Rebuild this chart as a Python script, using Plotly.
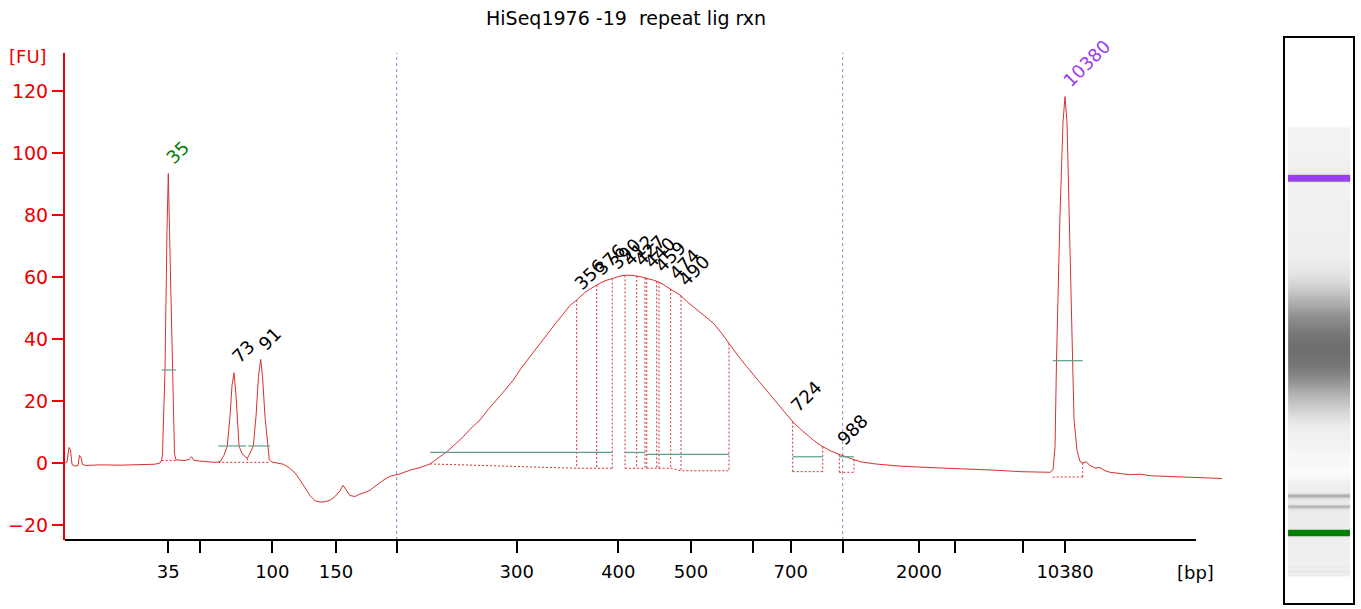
import numpy as np
import plotly.graph_objects as go

# ---------------- data (migration time in s, fluorescence in FU) ----------------
mig_time = [
    20.0, 20.2, 20.4, 20.55, 20.7, 21.0, 21.3, 21.45, 21.6, 21.75, 22.1, 23.5, 25.5, 27.5,
    29.0, 29.5, 29.67, 29.75, 30.0, 30.2, 30.33, 30.45, 30.73, 30.95, 31.1, 32.0, 32.4,
    32.67, 32.9, 33.5, 34.3, 35.0, 35.5, 35.9, 36.23, 36.5, 36.7, 36.9, 37.1, 37.3, 37.4,
    37.7, 38.0, 38.23, 38.4, 38.6, 38.83, 39.1, 39.35, 39.57, 39.75, 40.0, 40.27, 40.43,
    40.7, 41.3, 41.83, 42.4, 43.0, 43.5, 44.0, 44.5, 45.0, 45.5, 46.0, 46.5, 47.0, 47.5,
    47.8, 48.1, 48.5, 49.0, 49.5, 50.0, 50.5, 51.0, 51.5, 52.0, 52.5, 53.5, 54.5, 55.5,
    56.5, 57.3, 58.17, 59.0, 59.83, 60.6, 61.5, 62.3, 63.17, 64.0, 64.83, 65.6, 66.5,
    67.3, 68.17, 69.0, 69.83, 70.5, 71.17, 72.1, 73.17, 74.0, 74.83, 75.5, 76.17, 76.8,
    77.5, 78.1, 78.83, 79.5, 80.17, 80.8, 81.5, 82.3, 83.17, 84.0, 84.83, 85.7, 86.5,
    87.3, 88.17, 89.0, 89.83, 90.7, 91.5, 92.2, 92.83, 93.8, 94.83, 95.7, 96.5, 97.3,
    98.17, 98.8, 99.5, 101.0, 103.5, 106.0, 108.5, 111.0, 113.5, 115.5, 117.5, 118.5,
    118.8, 119.0, 119.15, 119.5, 119.8, 120.0, 120.2, 120.4, 120.7, 120.9, 121.2, 121.5,
    121.8, 122.1, 122.5, 123.0, 123.5, 124.0, 124.5, 125.5, 126.5, 127.5, 128.5, 130.0,
    131.5, 133.0, 134.5, 135.7,
]
fluorescence = [
    0.0, 0.3, 5.0, 4.2, -0.5, -1.0, -0.8, 2.5, 1.8, -0.5, -0.8, -0.6, -0.7, -0.5,
    -0.4, 0.0, 1.0, 3.0, 30.0, 75.0, 93.4, 75.0, 30.0, 3.0, 1.0, 0.8, 1.2,
    2.0, 0.8, 0.6, 0.4, 0.2, 0.4, 2.5, 5.5, 15.0, 25.0, 29.1, 22.0, 10.0, 5.5,
    3.0, 2.0, 1.5, 2.5, 4.0, 5.5, 15.0, 28.0, 33.4, 28.0, 15.0, 5.5, 1.0,
    0.3, 0.0, -0.4, -1.5, -3.2, -5.5, -8.0, -10.5, -12.2, -12.6, -12.5, -12.0, -10.8, -9.0,
    -7.2, -8.5, -10.5, -10.8, -10.0, -9.5, -8.8, -7.5, -6.2, -5.2, -4.3, -3.5, -2.3, -1.5,
    -0.3, 1.5, 3.6, 6.0, 8.5, 11.2, 13.9, 17.2, 20.3, 23.5, 26.8, 30.5, 34.3,
    37.8, 41.3, 44.8, 48.3, 50.8, 52.6, 55.3, 57.4, 58.8, 59.6, 60.3, 60.6, 60.5,
    60.1, 59.7, 59.0, 58.2, 56.9, 55.6, 54.2, 51.8, 49.4, 47.3, 45.1, 41.7, 38.1,
    34.6, 31.1, 27.8, 24.6, 21.3, 18.2, 15.5, 13.1, 10.2, 7.4, 5.4, 4.0, 2.9,
    2.0, 1.2, 0.4, -0.3, -1.0, -1.4, -1.7, -2.0, -2.4, -2.8, -3.0, -3.0,
    -2.2, 5.0, 33.0, 80.0, 110.0, 118.2, 110.0, 80.0, 33.0, 14.0, 4.0, 0.5,
    0.0, 0.4, -0.8, -1.6, -1.5, -2.5, -3.0, -3.3, -3.8, -3.6, -4.1, -4.3,
    -4.5, -4.6, -4.9, -5.0,
]

# ladder tick positions on the time axis and their bp labels ("" = unlabeled tick)
tick_times = [30.33, 33.5, 40.73, 47.1, 53.17, 65.17, 75.33, 82.6, 88.77, 92.57,
              97.77, 105.4, 109.0, 115.83, 120.0]
tick_labels = ["35", "", "100", "150", "", "300", "400", "500", "", "700",
               "", "2000", "", "", "10380"]
region_bounds = [53.17, 97.77]   # dotted region-of-interest lines

# called peaks
peak_times = [30.33, 36.9, 39.57, 71.17, 73.17, 74.73, 76.0, 77.17, 78.17, 79.2,
              80.57, 81.6, 92.77, 97.43, 120.0]
peak_labels = ["35", "73", "91", "356", "376", "390", "412", "427", "440", "459",
               "474", "490", "724", "988", "10380"]
peak_colors = ["#008000"] + ["black"] * 13 + ["#9b3cf5"]

# peak-window baselines (dotted) and half-height bars (green)
baseline_polylines = [
    [(29.67, 0.8), (31.1, 0.8)],
    [(35.33, 0.2), (40.5, 0.2)],
    [(56.5, -0.3), (71.17, -1.7), (74.73, -1.7)],
    [(76.0, -1.7), (78.0, -1.7)],
    [(78.17, -1.7), (80.57, -1.7), (81.6, -2.5), (86.4, -2.5)],
    [(92.77, -2.8), (95.77, -2.8)],
    [(97.43, -3.0), (98.9, -3.0)],
    [(118.77, -4.5), (121.77, -4.5)],
]
window_edges = [(38.23, 0.2), (71.17, -1.7), (73.17, -1.7), (74.73, -1.7), (76.0, -1.7),
                (77.17, -1.7), (78.0, -1.7), (78.17, -1.7), (79.17, -1.7), (79.4, -1.7),
                (80.57, -1.7), (81.6, -2.5), (86.4, -2.5), (92.77, -2.8), (95.77, -2.8),
                (97.43, -3.0), (98.9, -3.0), (121.77, -4.5)]
half_height_bars = [(29.67, 31.1, 30.0), (35.33, 38.1, 5.5), (38.33, 40.5, 5.5),
                    (56.5, 74.73, 3.4), (76.0, 78.0, 3.4), (78.17, 86.4, 2.8),
                    (92.77, 95.77, 2.0), (97.43, 98.9, 2.0), (118.77, 121.77, 33.0)]

lower_marker_time = 30.33
upper_marker_time = 120.0

# ---------------- styling ----------------
RED_AX = "#ee0000"
TRACE = "#d83030"
GREEN_BAR = "#5b9e8e"
FONT = "DejaVu Sans"

W, H = 1361, 609
ML, MR, MT, MB = 65, 5, 37, 5
PW, PH = W - ML - MR, H - MT - MB

def px_x(p):
    return (p - ML) / PW

def px_y(p):
    return (H - MB - p) / PH

fig = go.Figure()

# main trace
fig.add_trace(go.Scatter(x=mig_time, y=fluorescence, mode="lines",
                         line=dict(color=TRACE, width=1), hoverinfo="skip",
                         xaxis="x", yaxis="y", showlegend=False))

# dotted peak-window lines
tx, ty = [], []
for poly in baseline_polylines:
    for a, b in poly:
        tx.append(a); ty.append(b)
    tx.append(None); ty.append(None)
for t, yb in window_edges:
    tx += [t, t, None]
    ty += [float(np.interp(t, mig_time, fluorescence)), yb, None]
fig.add_trace(go.Scatter(x=tx, y=ty, mode="lines",
                         line=dict(color=TRACE, width=1, dash="2px,2px"),
                         hoverinfo="skip", showlegend=False))

# green half-height bars
gx, gy = [], []
for a, b, v in half_height_bars:
    gx += [a, b, None]; gy += [v, v, None]
fig.add_trace(go.Scatter(x=gx, y=gy, mode="lines",
                         line=dict(color=GREEN_BAR, width=1.2),
                         hoverinfo="skip", showlegend=False))

# ---------------- gel lane ----------------
gel_t_lo, gel_t_hi = 19.44, 132.7
grid = np.arange(gel_t_lo, gel_t_hi, 0.25)
fu_grid = np.interp(grid, mig_time, fluorescence)
gray = np.where(fu_grid > 0, 238 - 2.1 * fu_grid, 238 - 1.0 * fu_grid)
gray = np.clip(gray, 0, 250)
fig.add_trace(go.Heatmap(z=[[g] for g in gray], y=grid, x0=36.5, dx=64.4,
                         colorscale=[[0, "rgb(0,0,0)"], [1, "rgb(255,255,255)"]],
                         zmin=0, zmax=255, showscale=False, hoverinfo="skip",
                         xaxis="x2", yaxis="y2"))

shapes = []
for tm, col in [(upper_marker_time, "#9b3cf5"), (lower_marker_time, "#008000")]:
    shapes.append(dict(type="rect", xref="x2", yref="y2", x0=4.3, x1=68.7,
                       y0=tm - 0.8, y1=tm + 0.8, fillcolor=col, line=dict(width=0)))
shapes.append(dict(type="rect", xref="x2 domain", yref="y2 domain", x0=0, x1=1, y0=0, y1=1,
                   line=dict(color="black", width=2), fillcolor="rgba(0,0,0,0)"))

# region-of-interest dotted verticals
for t in region_bounds:
    shapes.append(dict(type="line", xref="x", yref="y domain", x0=t, x1=t, y0=0, y1=1,
                       line=dict(color="#8c8cd0", width=1, dash="dot"), layer="below"))
# x axis line (stops short of plot end)
shapes.append(dict(type="line", xref="x", yref="y domain", x0=20.0, x1=133.1, y0=0, y1=0,
                   line=dict(color="black", width=2)))

# ---------------- annotations ----------------
ann = []
for t, lab, col in zip(peak_times, peak_labels, peak_colors):
    yv = float(np.interp(t, mig_time, fluorescence))
    L = len(lab) * 11.45
    ann.append(dict(x=t, y=yv, xref="x", yref="y", text=lab, showarrow=False,
                    textangle=-45, xanchor="center", yanchor="middle",
                    xshift=0.354 * L + 1, yshift=0.354 * L + 13,
                    font=dict(family=FONT, size=18, color=col)))
ann.append(dict(x=px_x(28), y=px_y(56), xref="paper", yref="paper", text="[FU]",
                showarrow=False, xanchor="center", yanchor="middle",
                font=dict(family=FONT, size=18, color=RED_AX)))
ann.append(dict(x=px_x(1195), y=px_y(572), xref="paper", yref="paper", text="[bp]",
                showarrow=False, xanchor="center", yanchor="middle",
                font=dict(family=FONT, size=18, color="black")))
ann.append(dict(x=px_x(626), y=px_y(18), xref="paper", yref="paper",
                text="HiSeq1976 -19\u00a0 repeat lig rxn",
                showarrow=False, xanchor="center", yanchor="middle",
                font=dict(family=FONT, size=19, color="black")))

fig.update_layout(
    width=W, height=H,
    margin=dict(l=ML, r=MR, t=MT, b=MB),
    plot_bgcolor="white", paper_bgcolor="white",
    showlegend=False,
    xaxis=dict(domain=[0, px_x(1225)], range=[20.0, 136.0], showgrid=False, zeroline=False,
               showline=False, tickmode="array", tickvals=tick_times, ticktext=tick_labels,
               ticks="outside", ticklen=12, tickwidth=2, tickcolor="black",
               ticklabelstandoff=3,
               tickfont=dict(family=FONT, size=18, color="black"), anchor="y"),
    yaxis=dict(domain=[px_y(540), px_y(52.7)], range=[-24.84, 132.35], showgrid=False,
               zeroline=False, showline=True, linecolor=RED_AX, linewidth=2,
               tickmode="array", tickvals=[-20, 0, 20, 40, 60, 80, 100, 120],
               ticks="outside", ticklen=11, tickwidth=2, tickcolor=RED_AX,
               tickfont=dict(family=FONT, size=19, color=RED_AX), anchor="x"),
    xaxis2=dict(domain=[px_x(1284), px_x(1354)], range=[0, 73], visible=False,
                anchor="y2", fixedrange=True),
    yaxis2=dict(domain=[0, 1], range=[12.39, 155.65], visible=False, anchor="x2",
                fixedrange=True),
    shapes=shapes,
    annotations=ann,
)

fig.write_html("out.html", config={"displayModeBar": False})

# remove the default page margin so the figure sits at the window origin
with open("out.html", "r", encoding="utf-8") as f:
    html = f.read()
html = html.replace("<head>", "<head><style>html,body{margin:0;padding:0;overflow:hidden;}</style>", 1)
with open("out.html", "w", encoding="utf-8") as f:
    f.write(html)
